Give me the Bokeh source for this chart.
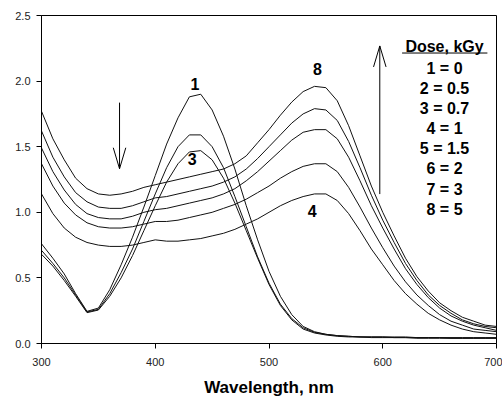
from bokeh.plotting import figure
from bokeh.models import Range1d, FixedTicker, Label
from bokeh.embed import file_html
from bokeh.resources import INLINE

# ---------------- data ----------------
wavelength = list(range(300, 701, 10))

curve_1 = [0.76, 0.65, 0.53, 0.38, 0.245, 0.27, 0.41, 0.60, 0.81, 1.04,
           1.28, 1.52, 1.72, 1.88, 1.90, 1.78, 1.58, 1.33, 1.05, 0.79,
           0.55, 0.36, 0.22, 0.13, 0.09, 0.07, 0.06, 0.055, 0.05, 0.05,
           0.05, 0.05, 0.05, 0.045, 0.045, 0.045, 0.045, 0.045, 0.045, 0.045, 0.045]
curve_2 = [0.71, 0.61, 0.50, 0.37, 0.24, 0.26, 0.38, 0.54, 0.72, 0.93,
           1.14, 1.34, 1.50, 1.59, 1.59, 1.50, 1.34, 1.12, 0.89, 0.66,
           0.46, 0.30, 0.19, 0.12, 0.085, 0.07, 0.06, 0.055, 0.05, 0.05,
           0.05, 0.045, 0.045, 0.045, 0.045, 0.045, 0.04, 0.04, 0.04, 0.04, 0.04]
curve_3 = [0.68, 0.59, 0.48, 0.36, 0.235, 0.255, 0.36, 0.50, 0.67, 0.86,
           1.05, 1.23, 1.37, 1.46, 1.47, 1.40, 1.26, 1.07, 0.86, 0.65,
           0.45, 0.29, 0.18, 0.11, 0.08, 0.065, 0.055, 0.05, 0.05, 0.045,
           0.045, 0.045, 0.045, 0.04, 0.04, 0.04, 0.04, 0.04, 0.04, 0.04, 0.04]
curve_4 = [1.14, 0.99, 0.88, 0.81, 0.77, 0.75, 0.74, 0.74, 0.75, 0.77,
           0.79, 0.78, 0.78, 0.79, 0.80, 0.82, 0.84, 0.87, 0.91, 0.95,
           1.00, 1.05, 1.09, 1.12, 1.14, 1.14, 1.09, 0.99, 0.86, 0.72,
           0.60, 0.48, 0.38, 0.30, 0.23, 0.18, 0.14, 0.11, 0.09, 0.08, 0.07]
curve_5 = [1.37, 1.20, 1.07, 0.98, 0.92, 0.89, 0.88, 0.88, 0.89, 0.91,
           0.93, 0.93, 0.94, 0.96, 0.98, 1.00, 1.03, 1.06, 1.10, 1.15,
           1.20, 1.26, 1.31, 1.35, 1.37, 1.37, 1.31, 1.19, 1.04, 0.88,
           0.73, 0.59, 0.47, 0.37, 0.29, 0.22, 0.17, 0.14, 0.11, 0.10, 0.09]
curve_6 = [1.49, 1.31, 1.17, 1.06, 0.99, 0.96, 0.95, 0.95, 0.97, 1.00,
           1.02, 1.03, 1.05, 1.07, 1.09, 1.11, 1.14, 1.18, 1.24, 1.31,
           1.39, 1.47, 1.55, 1.61, 1.63, 1.63, 1.56, 1.42, 1.24, 1.05,
           0.88, 0.72, 0.57, 0.45, 0.35, 0.27, 0.21, 0.17, 0.14, 0.12, 0.10]
curve_7 = [1.62, 1.42, 1.27, 1.15, 1.08, 1.04, 1.03, 1.03, 1.05, 1.08,
           1.11, 1.12, 1.14, 1.16, 1.18, 1.20, 1.23, 1.27, 1.33, 1.41,
           1.50, 1.59, 1.68, 1.75, 1.79, 1.78, 1.70, 1.54, 1.34, 1.13,
           0.94, 0.77, 0.61, 0.48, 0.37, 0.29, 0.23, 0.18, 0.15, 0.13, 0.12]
curve_8 = [1.77, 1.56, 1.40, 1.26, 1.18, 1.14, 1.13, 1.14, 1.16, 1.19,
           1.21, 1.23, 1.25, 1.27, 1.29, 1.31, 1.33, 1.37, 1.43, 1.53,
           1.63, 1.74, 1.84, 1.92, 1.96, 1.95, 1.85, 1.66, 1.43, 1.20,
           1.00, 0.82, 0.65, 0.51, 0.40, 0.31, 0.25, 0.20, 0.17, 0.14, 0.13]
curves = [curve_1, curve_2, curve_3, curve_4, curve_5, curve_6, curve_7, curve_8]

x_ticks = [300, 400, 500, 600, 700]
x_tick_labels = ["300", "400", "500", "600", "700"]
y_ticks = [0.0, 0.5, 1.0, 1.5, 2.0, 2.5]
y_tick_labels = ["0.0", "0.5", "1.0", "1.5", "2.0", "2.5"]

legend_title = "Dose, kGy"
legend_lines = ["1 = 0", "2 = 0.5", "3 = 0.7", "4 = 1", "5 = 1.5", "6 = 2", "7 = 3", "8 = 5"]

curve_tags = ["1", "3", "8", "4"]
curve_tag_x = [435, 432.5, 542.5, 538]
curve_tag_y = [1.975, 1.405, 2.09, 1.01]

FONT = "Liberation Sans"

# ---------------- figure ----------------
p = figure(width=502, height=399, output_backend="svg", toolbar_location=None,
           x_range=Range1d(300, 700), y_range=Range1d(0, 2.5),
           min_border_left=41, min_border_right=6, min_border_top=15, min_border_bottom=56)
p.xgrid.visible = False
p.ygrid.visible = False
p.background_fill_color = "white"
p.border_fill_color = "white"
p.outline_line_color = "black"
p.outline_line_width = 1

for ax in (p.xaxis[0], p.yaxis[0]):
    ax.axis_line_color = "black"
    ax.major_tick_line_color = "black"
    ax.minor_tick_line_color = None
    ax.major_tick_out = 5
    ax.major_tick_in = 0
    ax.major_label_text_font = FONT
    ax.major_label_text_font_size = "11px"
    ax.major_label_text_color = "#222222"

p.xaxis.ticker = FixedTicker(ticks=x_ticks)
p.xaxis.major_label_overrides = dict(zip(x_ticks, x_tick_labels))
p.yaxis.ticker = FixedTicker(ticks=y_ticks)
p.yaxis.major_label_overrides = dict(zip(y_ticks, y_tick_labels))
p.xaxis.major_label_standoff = 9
p.yaxis.major_label_standoff = 6

p.xaxis.axis_label = "Wavelength, nm"
p.xaxis.axis_label_text_font = FONT
p.xaxis.axis_label_text_font_size = "17px"
p.xaxis.axis_label_text_font_style = "bold"
p.xaxis.axis_label_text_color = "black"
p.xaxis.axis_label_standoff = 9

for c in curves:
    p.line(wavelength, c, line_color="#111111", line_width=1)

# curve number tags
for t, tx, ty in zip(curve_tags, curve_tag_x, curve_tag_y):
    p.add_layout(Label(x=tx, y=ty, text=t, text_font=FONT, text_font_size="16px",
                       text_font_style="bold", text_align="center", text_baseline="middle",
                       text_color="black"))

# legend block
leg_x = 654.3
p.add_layout(Label(x=leg_x, y=2.262, text=legend_title, text_font=FONT, text_font_size="16px",
                   text_font_style="bold", text_align="center", text_baseline="middle",
                   text_color="black"))
p.line([617.0, 692.0], [2.214, 2.214], line_color="black", line_width=1)
for i, t in enumerate(legend_lines):
    p.add_layout(Label(x=leg_x, y=(275.8 - 20.2 * i) / 131.4, text=t, text_font=FONT,
                       text_font_size="16px", text_font_style="bold", text_align="center",
                       text_baseline="middle", text_color="black"))

# arrows (down near 370 nm, up near 597 nm)
def arrow(x, y0, y1):
    p.line([x, x], [y0, y1], line_color="black", line_width=1)
    d = 0.16 if y1 < y0 else -0.16
    p.line([x - 5.5, x, x + 5.5], [y1 + d, y1, y1 + d], line_color="black", line_width=1)

arrow(368.6, 1.836, 1.332)
arrow(597.4, 1.139, 2.268)

open("out.html", "w").write(file_html(p, INLINE))
